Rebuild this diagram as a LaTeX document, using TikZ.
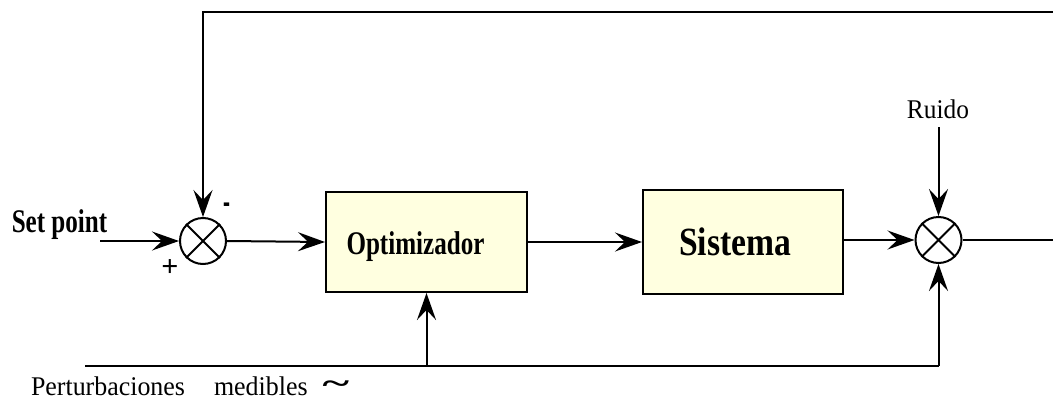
\documentclass[tikz,border=0pt]{standalone}
\usepackage{fontspec}
\setmainfont{Liberation Serif}
\usetikzlibrary{arrows.meta}
\begin{document}
\begin{tikzpicture}[x=1pt,y=-1pt,
  line width=2pt,
  arr/.style={-{Stealth[length=27pt,width=19pt,inset=10pt]}},
  blk/.style={draw, fill={rgb,255:red,255;green,255;blue,224}, line width=2pt, inner sep=0pt},
  sumn/.style={draw, circle, minimum size=46pt, inner sep=0pt, line width=2pt},
  lbl/.style={inner sep=0pt}]
\useasboundingbox (0,0) rectangle (1053,399);
% sums
\node[sumn] (s1) at (203,241) {};
\draw (s1.north west) -- (s1.south east) (s1.north east) -- (s1.south west);
\node[sumn] (s2) at (938.5,240) {};
\draw (s2.north west) -- (s2.south east) (s2.north east) -- (s2.south west);
% blocks
\node[blk, minimum width=201pt, minimum height=100pt] (opt) at (426.5,242) {};
\node[blk, minimum width=200pt, minimum height=104pt] (sis) at (743,242) {};
\node[lbl, anchor=base] (optl) at (415.5,254) {\scalebox{0.76}[1]{\fontsize{33}{36}\selectfont\bfseries Optimizador}};
\node[lbl, anchor=base] (sisl) at (735,255) {\scalebox{0.84}[1]{\fontsize{40}{44}\selectfont\bfseries Sistema}};
% labels
\node[lbl, anchor=base] (sp) at (59.5,232) {\scalebox{0.76}[1]{\fontsize{33}{36}\selectfont\bfseries Set point}};
\node[lbl] (plus) at (170,268) {\fontsize{30}{32}\selectfont\bfseries +};
\node[lbl] (minus) at (227,209) {\scalebox{0.8}[1.6]{\fontsize{26}{28}\selectfont\bfseries -}};
\node[lbl, anchor=base] (ruido) at (938,118) {\scalebox{0.94}[1]{\fontsize{27}{30}\selectfont Ruido}};
\node[lbl, anchor=base west] (pert) at (30,395) {\scalebox{0.96}[1]{\fontsize{27}{30}\selectfont Perturbaciones}};
\node[lbl, anchor=base west] (med) at (213,395) {\scalebox{0.96}[1]{\fontsize{27}{30}\selectfont medibles}};
\node[lbl] (tilde) at (336,387) {\scalebox{1.7}[1]{\fontsize{30}{32}\selectfont\bfseries\char"007E}};
% coordinates
\coordinate (spin) at (100,241);
\coordinate (tl) at (203,12);
\coordinate (tr) at (1053,12);
\coordinate (out) at (1053,240);
\coordinate (rtop) at (938.5,127);
\coordinate (bl) at (85,366);
\coordinate (bm) at (426.5,366);
\coordinate (br) at (938.5,366);
% connectors
\draw[arr] (spin) -- (s1.west);
\draw[arr] (s1.east) -- (opt.west);
\draw[arr] (opt.east) -- (sis.west);
\draw[arr] (sis.east |- s2) -- (s2.west);
\draw (s2.east) -- (out);
\draw[arr] (tr) -- (tl) -- (s1.north);
\draw[arr] (rtop) -- (s2.north);
\draw (bl) -- (br);
\draw[arr] (bm) -- (opt.south);
\draw[arr] (br) -- (s2.south);
\end{tikzpicture}
\end{document}
